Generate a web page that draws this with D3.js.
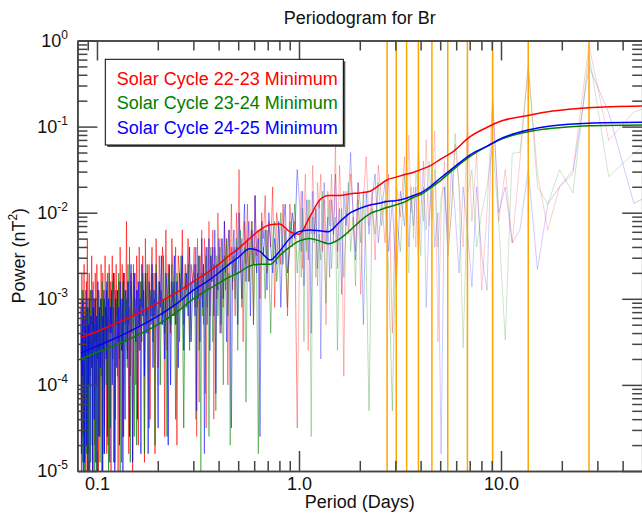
<!DOCTYPE html>
<html><head><meta charset="utf-8">
<script src="https://cdn.jsdelivr.net/npm/d3@7"></script>
<style>
body{margin:0;background:#fff}
svg{display:block}
text{font-family:"Liberation Sans",Arial,Helvetica,sans-serif}
</style>
</head><body>
<svg id="c" width="642" height="514"></svg>
<script>
// ---------- DATA ----------
// frequency grid of the periodograms (cycles per day); period = 1/frequency
const freqPerDay = [
12,11.94,11.88,11.82,11.76,11.7,11.64,11.58,11.52,11.46,
11.4,11.34,11.28,11.22,11.16,11.1,11.04,10.98,10.92,10.86,
10.8,10.74,10.68,10.62,10.56,10.5,10.44,10.38,10.32,10.26,
10.2,10.14,10.08,10.02,9.96,9.9,9.84,9.78,9.72,9.66,
9.6,9.54,9.48,9.42,9.36,9.3,9.24,9.18,9.12,9.06,
9,8.94,8.88,8.82,8.76,8.7,8.64,8.58,8.52,8.46,
8.4,8.34,8.28,8.22,8.16,8.1,8.04,7.98,7.92,7.86,
7.8,7.74,7.68,7.62,7.56,7.5,7.44,7.38,7.32,7.26,
7.2,7.14,7.08,7.02,6.96,6.9,6.84,6.78,6.72,6.66,
6.6,6.54,6.48,6.42,6.36,6.3,6.24,6.18,6.12,6.06,
6,5.94,5.88,5.82,5.76,5.7,5.64,5.58,5.52,5.46,
5.4,5.34,5.28,5.22,5.16,5.1,5.04,4.98,4.92,4.86,
4.8,4.74,4.68,4.62,4.56,4.5,4.44,4.38,4.32,4.26,
4.2,4.14,4.08,4.02,3.96,3.9,3.84,3.78,3.72,3.66,
3.6,3.54,3.48,3.42,3.36,
3.3,3.27,3.24,3.21,3.18,3.15,3.12,3.09,3.06,3.03,
3,2.97,2.94,2.91,2.88,2.85,2.82,2.79,2.76,2.73,
2.7,2.67,2.64,2.61,2.58,2.55,2.52,2.49,2.46,2.43,
2.4,2.37,2.34,2.31,2.28,2.25,2.22,2.19,2.16,2.13,
2.1,2.07,2.04,2.01,1.98,1.95,1.92,1.89,1.86,1.83,
1.8,1.77,1.74,1.71,1.68,1.65,1.62,1.59,1.56,1.53,
1.5,1.47,1.44,1.41,1.38,1.35,1.32,1.29,1.26,1.23,
1.2,1.17,1.14,1.11,1.08,1.05,1.02,
0.99,0.975,0.96,0.945,0.93,0.915,0.9,0.885,0.87,0.855,
0.84,0.825,0.81,0.795,0.78,0.765,0.75,0.735,0.72,0.705,
0.69,0.675,0.66,0.645,0.63,0.615,0.6,0.585,0.57,0.555,
0.54,0.525,0.51,0.495,0.48,0.465,0.45,0.435,0.42,0.405,
0.39,0.375,0.36,0.345,0.33,0.315,0.3,
0.2933,0.2859,0.2786,0.2713,0.2639,0.2566,0.2493,0.2419,0.2346,0.2273,
0.2199,0.2126,0.2053,0.1979,0.1906,0.1833,0.176,0.1686,0.1613,0.154,
0.1466,0.1393,0.132,0.1246,0.1173,0.11,0.1026,0.0953,0.088,0.0806,
0.0733,0.066,0.0587,0.0513,0.044,0.0367,0.0293,0.022,0.0147];

// log10 of power (nT^2) for each frequency
const log10PowerC2223 = [
-3.0,-5.0,-2.7,-3.5,-4.6,-2.9,-3.3,-2.6,-4.9,-3.1,
-3.4,-5.2,-2.8,-3.2,-2.3,-3.6,-4.8,-3.0,-2.7,-3.5,
-3.9,-2.9,-3.3,-2.5,-3.2,-5.3,-2.8,-3.4,-3.0,-4.7,
-2.7,-3.3,-4.0,-2.6,-3.1,-3.5,-5.0,-2.9,-3.2,-4.6,
-3.6,-2.6,-3.1,-5.1,-2.7,-3.3,-3.0,-4.5,-2.5,-3.2,
-2.9,-4.8,-2.7,-4.7,-3.1,-2.6,-3.4,-2.8,-5.2,-3.0,
-2.5,-3.3,-4.9,-2.7,-3.1,-4.4,-2.6,-3.2,-2.9,-5.0,
-2.8,-3.7,-2.4,-3.1,-4.9,-2.6,-4.6,-2.9,-2.7,-3.3,
-3.0,-2.1,-3.6,-2.8,-4.8,-2.4,-3.9,-2.7,-3.1,-5.1,
-2.6,-3.2,-2.7,-4.0,-2.5,-3.0,-4.7,-2.4,-3.6,-2.8,
-3.1,-2.5,-2.9,-4.9,-2.3,-3.2,-2.7,-3.4,-2.6,-4.4,
-2.8,-2.4,-3.2,-2.7,-4.8,-2.3,-3.0,-3.8,-2.5,-2.9,
-3.3,-2.4,-2.7,-4.6,-2.2,-3.6,-2.6,-2.9,-3.4,-2.3,
-2.8,-3.2,-2.4,-4.7,-2.5,-2.7,-3.1,-2.2,-3.3,-2.6,
-2.9,-2.3,-3.5,-2.6,-2.8,
-2.4,-3.1,-2.6,-4.6,-2.3,-2.8,-4.2,-2.5,-3.0,-2.2,
-2.7,-3.3,-2.3,-2.6,-4.5,-2.4,-2.9,-2.1,-3.2,-2.5,
-2.8,-2.2,-4.4,-2.4,-2.6,-3.0,-2.0,-2.7,-3.4,-2.3,
-2.5,-3.1,-2.1,-2.7,-2.3,-4.0,-2.2,-2.6,-1.9,-2.9,
-2.4,-3.2,-2.0,-2.5,-1.5,-2.7,-2.3,-3.5,-2.1,-2.6,
-1.9,-2.8,-2.3,-2.1,-3.3,-1.8,-2.5,-2.2,-3.0,-2.0,
-2.3,-1.8,-2.7,-2.1,-2.4,-1.7,-3.1,-2.0,-2.2,-2.6,
-1.9,-2.4,-3.2,-1.9,-2.3,-2.1,-4.5,
-2.15,-1.75,-2.65,-2.05,-1.55,-2.35,-3.6,-1.85,-2.25,-1.45,
-2.05,-2.75,-1.65,-1.95,-1.55,-2.45,-1.85,-3.3,-1.75,-2.15,
-1.55,-2.35,-1.2,-2.65,-1.45,-2.05,-3.9,-1.75,-2.25,-1.55,
-1.95,-2.45,-1.65,-2.95,-1.85,-1.35,-2.15,-1.75,-2.55,-1.45,
-1.85,-2.35,-1.55,-3.4,-1.65,-2.05,-1.35,
-2.3,-1.1,-2.0,-1.7,-2.4,-1.2,-1.7,-2.1,-1.15,-2.15,
-1.7,-1.05,-3.5,-2.0,-1.4,-2.5,-2.0,-1.2,-1.7,-2.4,
-0.92,-2.1,-1.3,-2.9,-2.0,-0.63,-2.1,-1.5,-2.35,-1.4,
-0.3,-1.54,-2.2,-1.7,-1.5,-0.05,-1.16,-0.83,-0.7];

const log10PowerC2324 = [
-3.3,-4.4,-3.6,-2.9,-4.9,-3.4,-3.1,-5.2,-3.5,-5.3,
-3.2,-3.6,-4.8,-3.0,-3.5,-5.1,-3.1,-5.0,-3.3,-3.6,
-2.9,-4.9,-3.4,-3.2,-4.7,-3.1,-3.6,-3.0,-5.4,-3.3,
-3.5,-3.0,-5.1,-3.2,-3.7,-2.9,-3.4,-4.6,-3.1,-4.9,
-3.0,-3.9,-3.3,-2.8,-5.0,-3.2,-4.8,-3.0,-3.5,-3.1,
-4.0,-2.9,-3.4,-3.2,-5.1,-2.7,-3.6,-4.5,-3.0,-3.3,
-2.8,-3.7,-3.1,-3.5,-4.9,-2.9,-3.3,-3.0,-3.9,-3.2,
-2.7,-3.4,-5.0,-3.0,-3.2,-3.6,-2.8,-4.6,-3.1,-2.9,
-3.5,-3.0,-3.8,-2.6,-3.3,-3.1,-4.9,-2.8,-3.4,-3.2,
-2.7,-4.6,-3.0,-3.3,-4.7,-2.9,-3.1,-3.6,-2.8,-3.2,
-3.5,-2.7,-3.0,-4.8,-2.8,-3.3,-2.6,-3.1,-4.5,-2.9,
-3.2,-2.7,-3.5,-3.0,-4.7,-2.6,-3.1,-3.3,-2.8,-4.0,
-2.9,-3.2,-2.5,-3.4,-3.0,-4.6,-2.7,-3.1,-3.3,-2.6,
-3.2,-2.8,-4.4,-2.7,-3.0,-3.5,-2.5,-2.9,-4.5,-2.7,
-3.1,-2.6,-3.6,-2.8,-3.0,
-2.7,-3.3,-4.4,-2.8,-3.1,-2.5,-3.6,-3.0,-5.0,-2.7,
-3.2,-2.6,-2.9,-4.1,-2.5,-3.1,-2.7,-4.6,-2.8,-2.4,
-3.0,-3.5,-2.6,-2.8,-4.3,-2.5,-3.2,-2.7,-2.4,-3.3,
-2.6,-4.0,-2.5,-2.9,-2.3,-3.2,-2.7,-4.7,-2.4,-2.8,
-2.5,-3.0,-2.3,-3.6,-2.6,-2.2,-3.1,-2.7,-2.4,-4.2,
-2.3,-2.8,-2.5,-2.1,-3.3,-2.4,-2.7,-4.8,-2.2,-2.6,
-2.4,-3.0,-2.2,-2.6,-3.4,-2.3,-2.1,-2.8,-2.5,-2.0,
-2.6,-2.2,-3.1,-2.1,-2.4,-1.9,-2.7,
-2.25,-2.75,-1.95,-3.5,-2.15,-2.45,-1.85,-2.65,-4.6,-2.05,
-2.35,-1.95,-2.85,-2.25,-2.55,-1.75,-2.45,-3.05,-2.15,-1.85,
-2.65,-2.25,-2.05,-3.6,-2.35,-1.95,-2.75,-2.15,-1.65,-2.45,
-2.05,-2.85,-1.85,-2.35,-1.75,-2.55,-4.3,-1.95,-2.25,-1.65,
-2.15,-1.85,-2.65,-4.3,-2.05,-2.45,-1.55,
-2.0,-2.7,-1.7,-2.3,-1.5,-1.8,-2.5,-1.7,-2.2,-1.4,
-2.1,-1.5,-2.4,-1.8,-1.7,-2.5,-2.0,-1.08,-1.7,-3.57,
-1.8,-1.5,-2.4,-2.0,-1.7,-1.2,-2.12,-3.48,-1.31,-1.3,
-0.3,-1.7,-1.9,-1.5,-1.77,-0.15,-1.58,-1.31,-1.0];

const log10PowerC2425 = [
-3.1,-4.8,-3.4,-3.9,-3.0,-5.4,-3.6,-3.2,-4.9,-3.3,
-3.7,-2.9,-4.7,-3.5,-3.1,-5.1,-3.3,-4.0,-3.0,-5.0,
-4.6,-3.2,-3.5,-3.8,-2.9,-5.0,-3.4,-3.1,-4.4,-3.3,
-3.0,-4.9,-3.6,-3.2,-5.2,-2.8,-3.4,-4.6,-3.1,-3.5,
-3.8,-3.0,-3.3,-5.2,-3.2,-3.6,-2.9,-4.8,-3.4,-3.1,
-3.7,-2.8,-4.6,-3.3,-3.0,-3.5,-4.9,-3.1,-3.4,-2.9,
-4.0,-3.2,-2.7,-3.6,-5.3,-3.0,-3.3,-3.8,-2.9,-3.5,
-3.1,-4.7,-2.8,-3.3,-3.6,-3.0,-5.0,-2.7,-3.4,-4.4,
-2.9,-3.2,-3.7,-2.8,-3.5,-4.6,-3.0,-2.6,-3.3,-4.9,
-3.8,-2.7,-3.2,-3.5,-2.9,-4.4,-2.8,-3.3,-3.0,-4.8,
-2.6,-3.2,-2.9,-3.9,-2.7,-3.4,-3.1,-4.8,-2.8,-3.0,
-3.3,-2.6,-3.8,-2.9,-3.2,-2.7,-3.5,-4.5,-2.8,-3.1,
-2.5,-3.3,-3.0,-3.7,-2.7,-2.9,-4.7,-2.6,-4.0,-2.8,
-3.1,-2.5,-3.3,-2.8,-3.8,-2.7,-3.0,-2.5,-3.6,-2.9,
-2.7,-3.2,-2.4,-3.5,-2.8,
-2.6,-3.2,-2.4,-4.3,-2.7,-3.0,-2.5,-3.5,-2.8,-2.3,
-3.1,-2.6,-4.8,-2.7,-2.4,-3.3,-2.9,-2.3,-3.6,-2.5,
-2.8,-2.4,-3.2,-2.2,-4.1,-2.6,-2.9,-2.3,-2.7,-3.4,
-2.3,-3.0,-2.1,-2.6,-3.5,-2.4,-2.2,-2.9,-4.5,-2.5,
-2.2,-2.7,-2.4,-3.3,-2.0,-2.5,-3.0,-2.3,-1.9,-2.8,
-2.4,-2.1,-3.2,-2.2,-2.6,-1.8,-2.7,-2.3,-4.6,-2.1,
-2.5,-2.2,-2.9,-2.0,-2.4,-2.7,-2.3,-2.6,-2.1,-3.1,
-2.2,-1.9,-2.7,-2.4,-2.0,-2.3,-1.5,
-1.95,-2.45,-1.75,-2.85,-2.15,-1.85,-2.55,-2.05,-3.4,-1.75,
-2.25,-1.95,-2.65,-1.85,-3.7,-2.15,-1.65,-2.35,-2.05,-2.75,
-1.85,-2.25,-1.55,-2.45,-1.95,-2.95,-1.75,-2.15,-1.85,-1.3,
-2.05,-2.55,-1.65,-1.95,-3.3,-1.75,-2.25,-1.85,-1.55,-2.35,
-1.95,-1.65,-2.45,-1.85,-2.85,-1.75,-2.15,
-1.7,-2.4,-1.8,-2.15,-1.7,-2.5,-2.0,-1.4,-3.1,-2.1,
-1.5,-2.4,-2.0,-4.8,-1.7,-2.3,-1.5,-2.0,-2.7,-1.7,
-2.2,-2.86,-1.7,-2.5,-2.9,-0.69,-2.0,-1.7,-2.35,-2.2,
-1.5,-2.66,-1.9,-1.7,-1.54,-0.3,-0.84,-1.89,-1.7];

// smoothed spectra (log10 power) at these periods (days)
const smoothPeriodDays = [0.0833,0.1,0.12,0.15,0.2,0.25,0.3,0.35,0.4,0.45,
0.5,0.57,0.64,0.72,0.8,0.9,1.0,1.13,1.27,1.4,
1.6,1.8,2.0,2.25,2.5,2.72,3.0,3.3,3.7,4.0,
4.5,5.0,5.8,7.0,8.5,10.2,13.6,18,27,50];
const smoothLog10C2223 = [-3.45,-3.38,-3.3,-3.2,-3.05,-2.92,-2.8,-2.7,-2.6,-2.5,
-2.42,-2.3,-2.2,-2.14,-2.13,-2.22,-2.25,-2.05,-1.85,-1.8,
-1.8,-1.78,-1.77,-1.75,-1.68,-1.62,-1.59,-1.56,-1.53,-1.5,
-1.45,-1.38,-1.29,-1.12,-1.01,-0.93,-0.87,-0.82,-0.78,-0.76];
const smoothLog10C2324 = [-3.7,-3.62,-3.55,-3.45,-3.3,-3.15,-3.0,-2.9,-2.82,-2.75,
-2.7,-2.62,-2.6,-2.6,-2.5,-2.4,-2.33,-2.3,-2.33,-2.36,
-2.3,-2.2,-2.1,-2.01,-1.97,-1.94,-1.91,-1.88,-1.82,-1.79,
-1.71,-1.63,-1.5,-1.35,-1.23,-1.14,-1.06,-1.02,-0.99,-0.98];
const smoothLog10C2425 = [-3.63,-3.55,-3.47,-3.36,-3.2,-3.05,-2.9,-2.8,-2.7,-2.6,
-2.52,-2.42,-2.45,-2.55,-2.45,-2.3,-2.22,-2.2,-2.21,-2.22,
-2.1,-2.0,-1.95,-1.91,-1.89,-1.87,-1.86,-1.84,-1.8,-1.77,
-1.69,-1.6,-1.48,-1.33,-1.23,-1.13,-1.04,-0.99,-0.96,-0.95];

// solar rotation period and harmonics (days)
const rotationPeriods = [27.27,13.64,9.09,6.82,5.45,4.55,3.90,3.41,3.03,2.73];

const seriesNames = ["Solar Cycle 22-23 Minimum","Solar Cycle 23-24 Minimum","Solar Cycle 24-25 Minimum"];
const seriesColors = ["#ff0000","#008000","#0000ff"];
const xMajorTicks = [0.1,1,10];
const xTickLabels = ["0.1","1.0","10.0"];
const yMajorTicks = [1e-5,1e-4,1e-3,1e-2,1e-1,1];
const yTickExponents = ["-5","-4","-3","-2","-1","0"];

// ---------- CHART ----------
const M = {l:77.4, r:642.2, t:40.5, b:471};
const x = d3.scaleLog().domain([0.08,50]).range([M.l,M.r]);
const y = d3.scaleLog().domain([1e-5,1]).range([M.b,M.t]);
const svg = d3.select("#c");
svg.append("defs").append("clipPath").attr("id","clip")
  .append("rect").attr("x",M.l).attr("y",M.t).attr("width",M.r-M.l).attr("height",M.b-M.t);
const plot = svg.append("g").attr("clip-path","url(#clip)");

const periods = freqPerDay.map(f=>1/f);
const raw = [log10PowerC2223, log10PowerC2324, log10PowerC2425];
const line = d3.line().x(d=>x(d[0])).y(d=>y(d[1]));
// the densely sampled short-period part is drawn with stronger ink (many overlapping points)
const pieces = [[0,145,0.6],[144,222,0.45],[221,269,0.28],[268,308,0.2]];
raw.forEach((arr,si)=>{
  const pts = periods.map((p,i)=>[p, Math.pow(10, arr[i])]);
  pieces.forEach(([a,b,op])=>{
    plot.append("path").attr("d", line(pts.slice(a,b))).attr("fill","none")
      .attr("stroke", seriesColors[si]).attr("stroke-opacity",op).attr("stroke-width",1);
  });
});

plot.selectAll("line.rot").data(rotationPeriods).join("line").attr("class","rot")
  .attr("x1",d=>x(d)).attr("x2",d=>x(d)).attr("y1",M.t).attr("y2",M.b)
  .attr("stroke","#ffa500").attr("stroke-width",1.5);

const smooth = [smoothLog10C2223, smoothLog10C2324, smoothLog10C2425];
const sline = d3.line().x(d=>x(d[0])).y(d=>y(d[1])).curve(d3.curveMonotoneX);
smooth.forEach((arr,si)=>{
  const pts = smoothPeriodDays.map((p,i)=>[p, Math.pow(10, arr[i])]);
  plot.append("path").attr("d", sline(pts)).attr("fill","none")
    .attr("stroke", seriesColors[si]).attr("stroke-width",1.5);
});

// axes
const axisColor = "#444";
const xMinor = [];
[0.01,0.1,1,10].forEach(dec=>{for(let k=2;k<=9;k++){const v=dec*k; if(v>0.08&&v<50) xMinor.push(v);}});
const yMinor = [];
[1e-5,1e-4,1e-3,1e-2,1e-1].forEach(dec=>{for(let k=2;k<=9;k++) yMinor.push(dec*k);});

function styleAxis(g){
  g.selectAll("path.domain").attr("stroke",axisColor).attr("stroke-width",1.5);
  g.selectAll(".tick line").attr("stroke",axisColor).attr("stroke-width",1.5);
}
svg.append("g").attr("transform",`translate(0,${M.b})`)
  .call(d3.axisBottom(x).tickValues(xMinor).tickSizeInner(-10).tickSizeOuter(0).tickFormat(""))
  .call(styleAxis);
const bx = svg.append("g").attr("transform",`translate(0,${M.b})`)
  .call(d3.axisBottom(x).tickValues(xMajorTicks).tickSizeInner(-20).tickSizeOuter(0)
    .tickPadding(6).tickFormat((d,i)=>xTickLabels[i]))
  .call(styleAxis);
bx.selectAll("text").attr("font-size",18).attr("fill","#111").attr("font-family",null);
svg.append("g").attr("transform",`translate(0,${M.t})`)
  .call(d3.axisTop(x).tickValues(xMinor).tickSizeInner(-10).tickSizeOuter(0).tickFormat(""))
  .call(styleAxis);
svg.append("g").attr("transform",`translate(0,${M.t})`)
  .call(d3.axisTop(x).tickValues(xMajorTicks).tickSizeInner(-20).tickSizeOuter(0).tickFormat(""))
  .call(styleAxis);
svg.append("g").attr("transform",`translate(${M.l},0)`)
  .call(d3.axisLeft(y).tickValues(yMinor).tickSizeInner(-10).tickSizeOuter(0).tickFormat(""))
  .call(styleAxis);
svg.append("g").attr("transform",`translate(${M.l},0)`)
  .call(d3.axisLeft(y).tickValues(yMajorTicks).tickSizeInner(-20).tickSizeOuter(0).tickFormat(""))
  .call(styleAxis);
svg.append("g").attr("transform",`translate(${M.r},0)`)
  .call(d3.axisRight(y).tickValues(yMinor).tickSizeInner(-10).tickSizeOuter(0).tickFormat(""))
  .call(styleAxis);
svg.append("g").attr("transform",`translate(${M.r},0)`)
  .call(d3.axisRight(y).tickValues(yMajorTicks).tickSizeInner(-20).tickSizeOuter(0).tickFormat(""))
  .call(styleAxis);

yMajorTicks.forEach((v,i)=>{
  const t = svg.append("text").attr("x",68).attr("y",y(v)+6).attr("text-anchor","end")
    .attr("font-size",18).attr("fill","#111");
  t.append("tspan").text("10");
  t.append("tspan").attr("font-size",12).attr("dy",-8).text(yTickExponents[i]);
});

svg.append("text").attr("x",(M.l+M.r)/2).attr("y",24).attr("text-anchor","middle")
  .attr("font-size",18).attr("fill","#111").text("Periodogram for Br");
svg.append("text").attr("x",(M.l+M.r)/2).attr("y",508).attr("text-anchor","middle")
  .attr("font-size",18).attr("fill","#111").text("Period (Days)");
const yl = svg.append("text").attr("transform",`translate(25,${(M.t+M.b)/2}) rotate(-90)`)
  .attr("text-anchor","middle").attr("font-size",18).attr("fill","#111");
yl.append("tspan").text("Power (nT");
yl.append("tspan").attr("font-size",12).attr("dy",-8).text("2");
yl.append("tspan").attr("dy",8).text(")");

const lg = svg.append("g");
lg.append("rect").attr("x",107.3).attr("y",61.3).attr("width",238).attr("height",85.7).attr("fill","#555");
lg.append("rect").attr("x",105.3).attr("y",59.3).attr("width",238).attr("height",85.7)
  .attr("fill","#fff").attr("stroke","#000").attr("stroke-width",1);
seriesNames.forEach((n,i)=>{
  lg.append("text").attr("x",116.7).attr("y",84.8+i*24.5).attr("font-size",18)
    .attr("fill",seriesColors[i]).text(n);
});
</script>
</body></html>
